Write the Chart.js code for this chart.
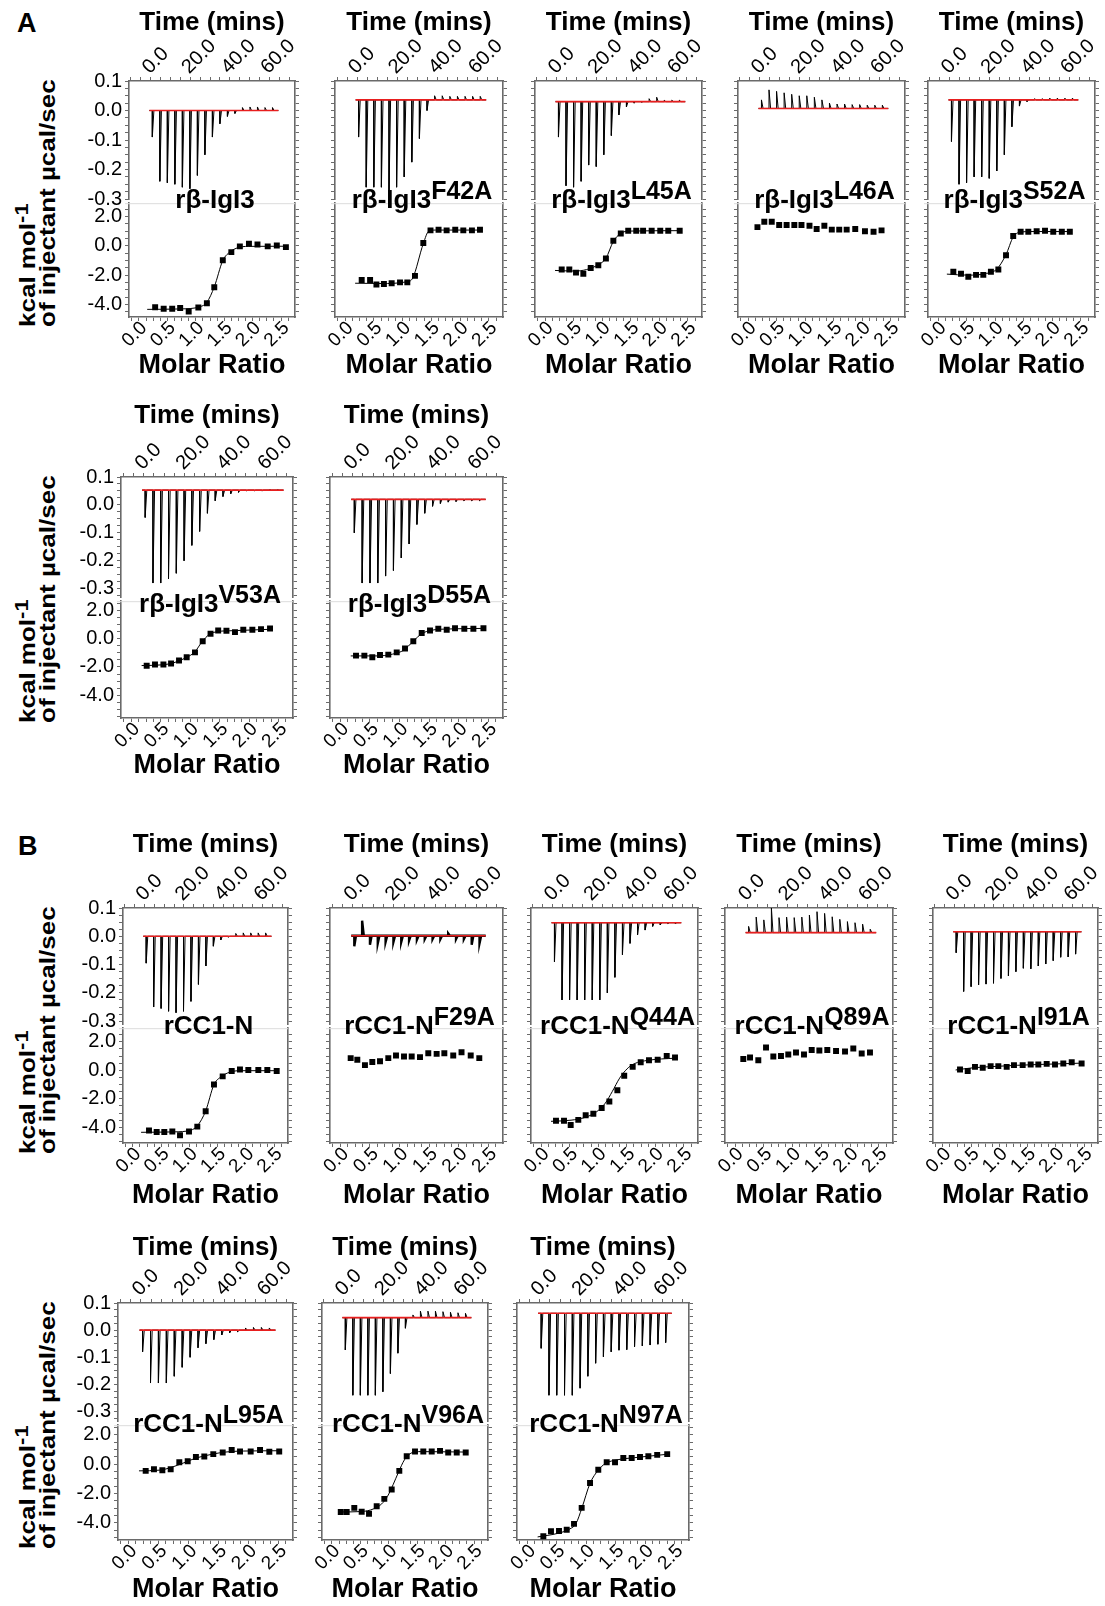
<!DOCTYPE html>
<html>
<head>
<meta charset="utf-8">
<script src="https://cdn.jsdelivr.net/npm/chart.js@4.4.1/dist/chart.umd.min.js"></script>
<style>
  body { margin: 0; background: #fff; }
  #fig { position: relative; width: 1105px; height: 1606px; overflow: hidden; background: #fff;
         font-family: 'Liberation Sans', Arial, Helvetica, sans-serif; }
  #fig canvas { position: absolute; }
  .lbl { position: absolute; font-weight: bold; color: #000; white-space: nowrap; z-index: 5; }
  .name { font-size: 26px; line-height: 26px; }
  .name .sup { font-size: 25px; position: relative; top: -9px; }
  .ytitle { font-size: 26px; line-height: 22px; transform-origin: 0 0; transform: rotate(-90deg) scale(1, 0.85); }
  .ytitle .sup { font-size: 22px; position: relative; top: -8px; }
  .tag { font-size: 27px; line-height: 27px; }
</style>
</head>
<body>
<div id="fig"></div>
<script>
// ---- data ----
const panelNames = ['rβ-IgI3', 'rβ-IgI3', 'rβ-IgI3', 'rβ-IgI3', 'rβ-IgI3', 'rβ-IgI3', 'rβ-IgI3',
  'rCC1-N', 'rCC1-N', 'rCC1-N', 'rCC1-N', 'rCC1-N', 'rCC1-N', 'rCC1-N', 'rCC1-N'];
const mutations = ['', 'F42A', 'L45A', 'L46A', 'S52A', 'V53A', 'D55A',
  '', 'F29A', 'Q44A', 'Q89A', 'I91A', 'L95A', 'V96A', 'N97A'];

// tick labels
const timeTicks = [0, 20, 40, 60];
const ratioTicks = [0, 0.5, 1, 1.5, 2, 2.5];
const powerTicks = [0.1, 0, -0.1, -0.2, -0.3];
const heatTicks = [2, 0, -2, -4];

// injection times (min), same protocol for every titration
const injectionTimes = [0.8, 4.6, 8.4, 12.2, 16.0, 19.8, 23.6, 27.4, 31.2, 35.0, 38.8, 42.6, 46.4, 50.2, 54.0, 57.8, 61.6, 65.4];

// thermogram baseline (µcal/sec) and peak value of each injection
const baselines = [0.0, 0.036, 0.03, 0.007, 0.036, 0.053, 0.02, 0.0, 0.002, 0.048, 0.013, 0.016, 0.0, 0.046, 0.062];
const peakHeights = [
  [-0.09, -0.24, -0.245, -0.25, -0.26, -0.265, -0.22, -0.15, -0.09, -0.045, -0.02, -0.01, 0.01, 0.012, 0.012, 0.01, 0.01],
  [-0.09, -0.26, -0.26, -0.26, -0.275, -0.26, -0.225, -0.175, -0.095, 0.0, 0.05, 0.05, 0.048, 0.048, 0.048, 0.048, 0.048],
  [-0.09, -0.255, -0.26, -0.24, -0.185, -0.19, -0.15, -0.085, -0.015, 0.012, 0.025, 0.028, 0.04, 0.045, 0.035, 0.035, 0.035],
  [0.036, 0.07, 0.065, 0.06, 0.055, 0.05, 0.05, 0.045, 0.036, 0.025, 0.022, 0.022, 0.02, 0.02, 0.018, 0.018, 0.018],
  [-0.105, -0.25, -0.245, -0.225, -0.225, -0.23, -0.205, -0.15, -0.055, 0.015, 0.03, 0.04, 0.04, 0.042, 0.042, 0.042, 0.042],
  [-0.045, -0.28, -0.28, -0.265, -0.245, -0.2, -0.145, -0.095, -0.03, 0.015, 0.03, 0.04, 0.045, 0.05, 0.05, 0.05, 0.055, 0.055],
  [-0.1, -0.28, -0.28, -0.28, -0.255, -0.235, -0.19, -0.14, -0.07, -0.03, -0.005, 0.005, 0.01, 0.012, 0.015, 0.015, 0.015],
  [-0.095, -0.25, -0.255, -0.265, -0.27, -0.265, -0.23, -0.17, -0.105, -0.035, -0.013, -0.003, 0.01, 0.012, 0.012, 0.012, 0.012],
  [-0.035, 0.055, -0.03, -0.025, -0.02, -0.02, -0.02, -0.015, -0.012, -0.01, -0.01, -0.01, 0.01, -0.01, -0.01, -0.03, -0.025],
  [-0.09, -0.225, -0.225, -0.225, -0.225, -0.225, -0.225, -0.2, -0.145, -0.065, -0.025, 0.005, 0.022, 0.035, 0.04, 0.045, 0.045],
  [0.035, 0.068, 0.058, 0.1, 0.066, 0.068, 0.066, 0.068, 0.075, 0.087, 0.081, 0.069, 0.06, 0.052, 0.048, 0.043, 0.025],
  [-0.058, -0.195, -0.178, -0.172, -0.169, -0.166, -0.149, -0.14, -0.125, -0.113, -0.115, -0.105, -0.098, -0.086, -0.074, -0.073, -0.063],
  [-0.08, -0.195, -0.195, -0.195, -0.17, -0.137, -0.1, -0.065, -0.05, -0.035, -0.018, -0.01, -0.006, 0.008, 0.01, 0.01, 0.008],
  [-0.073, -0.24, -0.24, -0.24, -0.24, -0.227, -0.16, -0.085, 0.007, 0.056, 0.07, 0.07, 0.07, 0.068, 0.066, 0.064, 0.062],
  [-0.067, -0.24, -0.24, -0.24, -0.24, -0.214, -0.17, -0.122, -0.098, -0.08, -0.074, -0.072, -0.061, -0.058, -0.055, -0.052, -0.046]
];

// integrated heats: molar ratio and kcal/mol of injectant
const molarRatios = [
  [0.16, 0.31, 0.46, 0.6, 0.75, 0.92, 1.07, 1.2, 1.35, 1.5, 1.65, 1.81, 1.96, 2.14, 2.3, 2.46],
  [0.164, 0.31, 0.42, 0.55, 0.685, 0.83, 0.957, 1.09, 1.235, 1.36, 1.5, 1.64, 1.79, 1.93, 2.08, 2.22],
  [0.167, 0.3, 0.417, 0.545, 0.674, 0.807, 0.94, 1.07, 1.2, 1.33, 1.47, 1.59, 1.74, 1.89, 2.03, 2.23],
  [0.04, 0.16, 0.29, 0.42, 0.55, 0.685, 0.81, 0.95, 1.075, 1.21, 1.34, 1.47, 1.6, 1.75, 1.92, 2.07, 2.21],
  [0.143, 0.277, 0.405, 0.54, 0.667, 0.8, 0.93, 1.064, 1.19, 1.32, 1.454, 1.6, 1.746, 1.89, 2.04, 2.18],
  [0.136, 0.277, 0.42, 0.55, 0.685, 0.815, 0.956, 1.087, 1.22, 1.35, 1.49, 1.635, 1.776, 1.93, 2.077, 2.23],
  [0.139, 0.28, 0.414, 0.544, 0.684, 0.826, 0.966, 1.106, 1.248, 1.388, 1.528, 1.67, 1.81, 1.967, 2.12, 2.29],
  [0.16, 0.296, 0.431, 0.573, 0.709, 0.868, 1.015, 1.163, 1.31, 1.464, 1.624, 1.77, 1.918, 2.095, 2.254, 2.42],
  [0.049, 0.161, 0.29, 0.414, 0.544, 0.684, 0.814, 0.949, 1.079, 1.219, 1.359, 1.5, 1.63, 1.78, 1.92, 2.075, 2.22],
  [0.137, 0.277, 0.394, 0.527, 0.656, 0.79, 0.936, 1.07, 1.21, 1.33, 1.478, 1.618, 1.763, 1.915, 2.073, 2.218],
  [0.018, 0.135, 0.279, 0.413, 0.54, 0.673, 0.8, 0.934, 1.073, 1.207, 1.34, 1.478, 1.63, 1.786, 1.93, 2.076, 2.22],
  [0.178, 0.314, 0.443, 0.58, 0.72, 0.856, 1.004, 1.133, 1.287, 1.429, 1.564, 1.712, 1.859, 2.006, 2.155, 2.33],
  [0.162, 0.3, 0.44, 0.579, 0.723, 0.863, 1.0, 1.14, 1.29, 1.447, 1.597, 1.736, 1.914, 2.07, 2.225, 2.39],
  [0.03, 0.134, 0.268, 0.398, 0.527, 0.662, 0.796, 0.926, 1.06, 1.19, 1.336, 1.482, 1.63, 1.776, 1.92, 2.07, 2.228],
  [0.147, 0.277, 0.413, 0.544, 0.668, 0.798, 0.94, 1.08, 1.223, 1.364, 1.505, 1.647, 1.788, 1.93, 2.08, 2.25]
];
const heats = [
  [-4.18, -4.29, -4.29, -4.24, -4.47, -4.2, -3.91, -2.83, -0.99, -0.43, -0.04, 0.14, 0.09, -0.04, 0.02, -0.09],
  [-2.33, -2.33, -2.64, -2.6, -2.55, -2.49, -2.49, -2.05, 0.19, 1.05, 1.09, 1.05, 1.09, 1.05, 1.05, 1.09],
  [-1.62, -1.62, -1.83, -1.9, -1.51, -1.33, -0.86, 0.34, 0.84, 1.03, 1.03, 1.03, 1.03, 1.03, 1.03, 1.03],
  [1.27, 1.64, 1.64, 1.42, 1.42, 1.42, 1.42, 1.36, 1.14, 1.36, 1.1, 1.1, 1.1, 1.14, 0.99, 0.95, 1.05],
  [-1.77, -1.9, -2.11, -1.98, -1.98, -1.77, -1.62, -0.64, 0.66, 0.95, 0.95, 0.99, 1.03, 0.95, 0.95, 0.95],
  [-1.92, -1.83, -1.83, -1.76, -1.54, -1.31, -0.97, -0.18, 0.35, 0.57, 0.55, 0.46, 0.62, 0.62, 0.67, 0.71],
  [-1.2, -1.2, -1.31, -1.15, -1.13, -0.97, -0.7, -0.18, 0.39, 0.57, 0.69, 0.62, 0.73, 0.69, 0.69, 0.73],
  [-4.22, -4.33, -4.33, -4.29, -4.56, -4.29, -3.95, -2.87, -1.0, -0.43, -0.05, 0.06, 0.02, 0.02, 0.02, -0.05],
  [0.85, 0.74, 0.36, 0.58, 0.63, 0.85, 1.03, 0.97, 0.97, 0.92, 1.19, 1.15, 1.19, 1.03, 1.26, 1.03, 0.85],
  [-3.54, -3.54, -3.84, -3.48, -3.16, -3.05, -2.64, -2.19, -1.4, -0.39, 0.24, 0.56, 0.7, 0.74, 1.01, 0.9],
  [0.79, 0.9, 0.7, 1.6, 0.97, 1.0, 1.1, 1.24, 1.1, 1.42, 1.38, 1.42, 1.35, 1.31, 1.53, 1.17, 1.24],
  [0.06, -0.05, 0.24, 0.18, 0.29, 0.29, 0.24, 0.36, 0.36, 0.4, 0.4, 0.45, 0.4, 0.47, 0.56, 0.47],
  [-0.45, -0.34, -0.41, -0.34, 0.14, 0.21, 0.49, 0.53, 0.69, 0.8, 0.97, 0.87, 0.87, 0.97, 0.85, 0.87],
  [-3.25, -3.25, -2.97, -3.23, -3.37, -2.86, -2.36, -1.72, -0.45, 0.54, 0.87, 0.87, 0.87, 0.91, 0.8, 0.8, 0.8],
  [-4.9, -4.57, -4.55, -4.46, -4.06, -2.97, -1.28, -0.38, 0.14, 0.14, 0.43, 0.43, 0.49, 0.54, 0.64, 0.69]
];

// fitted binding curves [molar ratio, kcal/mol], null where no fit was drawn
const fitCurves = [
  [[0.02, -4.33], [0.6, -4.3], [0.95, -4.15], [1.07, -3.85], [1.2, -2.8], [1.35, -1.0], [1.45, -0.5], [1.6, -0.15], [1.8, -0.04], [2.48, -0.03]],
  [[0.05, -2.55], [0.5, -2.57], [0.95, -2.45], [1.05, -2.2], [1.235, 0.15], [1.33, 1.0], [1.45, 1.07], [2.25, 1.07]],
  [[0.05, -1.68], [0.4, -1.72], [0.6, -1.62], [0.8, -1.3], [0.94, -0.85], [1.07, 0.3], [1.2, 0.85], [1.35, 1.0], [2.25, 1.03]],
  null,
  [[0.03, -1.93], [0.4, -2.0], [0.7, -1.9], [0.9, -1.6], [1.064, -0.6], [1.19, 0.6], [1.3, 0.92], [1.5, 0.97], [2.2, 0.97]],
  [[0.05, -1.9], [0.4, -1.85], [0.6, -1.7], [0.8, -1.35], [0.95, -0.95], [1.08, -0.2], [1.2, 0.3], [1.35, 0.5], [1.6, 0.56], [2.25, 0.66]],
  [[0.05, -1.22], [0.5, -1.22], [0.75, -1.1], [0.95, -0.8], [1.1, -0.2], [1.25, 0.35], [1.4, 0.58], [1.7, 0.68], [2.3, 0.72]],
  [[0.02, -4.35], [0.6, -4.32], [0.9, -4.2], [1.015, -3.9], [1.163, -2.85], [1.31, -1.0], [1.42, -0.5], [1.6, -0.12], [1.8, -0.03], [2.45, -0.03]],
  null,
  [[0.05, -3.58], [0.4, -3.5], [0.65, -3.3], [0.85, -2.9], [1.0, -2.3], [1.12, -1.5], [1.25, -0.55], [1.38, 0.1], [1.5, 0.45], [1.75, 0.7], [2.22, 0.85]],
  null,
  [[0.1, 0.02], [0.4, 0.17], [0.8, 0.27], [1.2, 0.35], [1.6, 0.41], [2.0, 0.46], [2.33, 0.5]],
  [[0.05, -0.45], [0.4, -0.4], [0.6, -0.2], [0.8, 0.1], [1.0, 0.42], [1.2, 0.62], [1.4, 0.78], [1.6, 0.87], [1.8, 0.9], [2.4, 0.92]],
  [[0.02, -3.25], [0.4, -3.22], [0.6, -3.05], [0.75, -2.7], [0.85, -2.2], [0.95, -1.4], [1.05, -0.5], [1.15, 0.3], [1.25, 0.72], [1.4, 0.86], [2.25, 0.83]],
  [[0.05, -4.95], [0.4, -4.7], [0.6, -4.4], [0.7, -4.05], [0.8, -3.0], [0.94, -1.3], [1.08, -0.4], [1.2, 0.05], [1.4, 0.3], [1.7, 0.45], [2.25, 0.68]]
];

// ---- layout ----
const rows = [
  { top: 81,   div: 199,  bottom: 317,  pMin: -0.30,  hMin: -4.85, hMax: 2.9,  timeGap: 58, ratioGap: 49, nameDrop: 9 },
  { top: 477,  div: 597,  bottom: 718,  pMin: -0.33,  hMin: -5.6,  hMax: 2.64, timeGap: 61, ratioGap: 48, nameDrop: 15 },
  { top: 908,  div: 1024, bottom: 1143, pMin: -0.31,  hMin: -5.1,  hMax: 2.95, timeGap: 63, ratioGap: 53, nameDrop: 10 },
  { top: 1303, div: 1421, bottom: 1540, pMin: -0.335, hMin: -5.16, hMax: 2.66, timeGap: 55, ratioGap: 50, nameDrop: 11 }
];
const panelRow = [0, 0, 0, 0, 0, 1, 1, 2, 2, 2, 2, 2, 3, 3, 3];
const boxLeft  = [129, 335, 535, 738, 928, 121, 330, 123, 330, 531, 725, 933, 118, 322, 517];
const boxRight = [295, 503, 702, 905, 1095, 293, 503, 288, 503, 698, 893, 1098, 293, 488, 689];
const traceWidth = [1, 1, 1, 1, 1, 1, 1, 1, 2.4, 1, 1, 1, 1, 1, 1];

const AXIS = '#6a6a6a';
const LEFT_W = 55, RIGHT_W = 25, TOP_H = 80, BOTTOM_H = 75, OVERHANG = 14;

Chart.defaults.font.family = "'Liberation Sans', Arial, Helvetica, sans-serif";
Chart.defaults.color = '#000';

const fig = document.getElementById('fig');

function stepTicks(min, max, step) {
  const out = [];
  for (let i = Math.ceil(min / step - 1e-9); i * step <= max + 1e-9; i++) {
    out.push({ value: Math.round(i * step * 1e6) / 1e6 });
  }
  return out;
}

function labelIf(list) {
  return v => list.some(m => Math.abs(m - v) < 1e-6) ? Number(v).toFixed(1) : '';
}

function axisLook() {
  return {
    grid: { drawOnChartArea: false, drawTicks: true, tickLength: 4, color: AXIS, lineWidth: 1 },
    border: { display: true, color: AXIS, width: 1.6 }
  };
}

function yAxis(pos, min, max, step, majors, showLabels) {
  return Object.assign({
    type: 'linear', position: pos, min: min, max: max,
    afterBuildTicks: s => { s.ticks = stepTicks(min, max, step); },
    afterFit: s => { s.width = pos === 'left' ? LEFT_W : RIGHT_W; s.paddingTop = 0; s.paddingBottom = 0; },
    ticks: { autoSkip: false, display: showLabels, padding: 3, font: { size: 20 }, callback: labelIf(majors) }
  }, axisLook());
}

function addCanvas(left, top, w, h) {
  const c = document.createElement('canvas');
  c.width = w; c.height = h;
  c.style.left = left + 'px'; c.style.top = top + 'px';
  c.style.width = w + 'px'; c.style.height = h + 'px';
  fig.appendChild(c);
  return c;
}

function addText(cls, html, css) {
  const d = document.createElement('div');
  d.className = 'lbl ' + cls;
  d.innerHTML = html;
  Object.assign(d.style, css);
  fig.appendChild(d);
  return d;
}

const dividerLine = {
  id: 'dividerLine',
  afterDraw(chart) {
    const { ctx, chartArea: a } = chart;
    ctx.save();
    ctx.strokeStyle = '#dcdcdc';
    ctx.lineWidth = 1;
    ctx.beginPath();
    ctx.moveTo(a.left - 4, a.top + 0.5);
    ctx.lineTo(a.right, a.top + 0.5);
    ctx.stroke();
    ctx.restore();
  }
};

const baseOptions = {
  responsive: false, animation: false, devicePixelRatio: 1, events: [],
  plugins: { legend: { display: false }, tooltip: { enabled: false } }
};

function thermogram(k) {
  const base = baselines[k];
  const peaks = peakHeights[k];
  const pts = [{ x: injectionTimes[0] - 1.5, y: base }];
  peaks.forEach((p, i) => {
    const t = injectionTimes[i];
    pts.push({ x: t, y: base }, { x: t, y: p }, { x: t + 0.8, y: base });
  });
  pts.push({ x: injectionTimes[peaks.length - 1] + 3, y: base });
  return pts;
}

function drawPanel(k) {
  const row = rows[panelRow[k]];
  const showY = k === 0 || panelRow[k] !== panelRow[k - 1];
  const L = boxLeft[k], R = boxRight[k];
  const w = R - L + LEFT_W + RIGHT_W;
  const base = baselines[k];
  const n = peakHeights[k].length;

  // upper panel: raw power vs time
  const cTop = addCanvas(L - LEFT_W, row.top - TOP_H, w, row.div - row.top + TOP_H + OVERHANG);
  new Chart(cTop, {
    type: 'line',
    data: {
      datasets: [
        { data: [{ x: injectionTimes[0] - 1.5, y: base }, { x: injectionTimes[n - 1] + 3, y: base }],
          xAxisID: 'xt', yAxisID: 'yl', borderColor: 'rgb(232,30,30)', borderWidth: 1.6, pointRadius: 0 },
        { data: thermogram(k), xAxisID: 'xt', yAxisID: 'yl', borderColor: '#000',
          borderWidth: traceWidth[k], pointRadius: 0, tension: 0 }
      ]
    },
    options: Object.assign({}, baseOptions, {
      layout: { padding: { bottom: OVERHANG } },
      scales: {
        xt: Object.assign({
          type: 'linear', position: 'top', min: -11, max: 73,
          afterBuildTicks: s => { s.ticks = stepTicks(-11, 73, 5); },
          afterFit: s => { s.height = TOP_H; s.paddingLeft = 0; s.paddingRight = 0; },
          ticks: { autoSkip: false, minRotation: 45, maxRotation: 45, labelOffset: 12, padding: -2,
                   font: { size: 20 }, callback: labelIf(timeTicks) },
          title: { display: true, text: 'Time (mins)', color: '#000', font: { size: 26, weight: 'bold' },
                   padding: { top: TOP_H - row.timeGap - 15.6, bottom: 0 } }
        }, axisLook()),
        yl: yAxis('left', row.pMin, 0.1, 0.025, powerTicks, showY),
        yr: yAxis('right', row.pMin, 0.1, 0.025, powerTicks, false)
      }
    })
  });

  // lower panel: integrated heats vs molar ratio
  const cBot = addCanvas(L - LEFT_W, row.div, w, row.bottom - row.div + BOTTOM_H);
  const datasets = [
    { data: molarRatios[k].map((x, i) => ({ x: x, y: heats[k][i] })), xAxisID: 'xb', yAxisID: 'ylb',
      showLine: false, pointStyle: 'rect', pointRadius: 4.2, backgroundColor: '#000', borderColor: '#000', borderWidth: 0 }
  ];
  if (fitCurves[k]) {
    datasets.push({ data: fitCurves[k].map(p => ({ x: p[0], y: p[1] })), xAxisID: 'xb', yAxisID: 'ylb',
      borderColor: '#000', borderWidth: 1, pointRadius: 0, cubicInterpolationMode: 'monotone' });
  }
  new Chart(cBot, {
    type: 'line',
    data: { datasets: datasets },
    options: Object.assign({}, baseOptions, {
      scales: {
        xb: Object.assign({
          type: 'linear', position: 'bottom', min: -0.3, max: 2.62,
          afterBuildTicks: s => { s.ticks = stepTicks(-0.3, 2.62, 0.125); },
          afterFit: s => { s.height = BOTTOM_H; s.paddingLeft = 0; s.paddingRight = 0; },
          ticks: { autoSkip: false, minRotation: 45, maxRotation: 45, labelOffset: -2, padding: -4,
                   font: { size: 19 }, callback: labelIf(ratioTicks) },
          title: { display: true, text: 'Molar Ratio', color: '#000', font: { size: 27, weight: 'bold' },
                   padding: { top: 0, bottom: BOTTOM_H - row.ratioGap - 16.2 } }
        }, axisLook()),
        ylb: yAxis('left', row.hMin, row.hMax, 0.5, heatTicks, showY),
        yrb: yAxis('right', row.hMin, row.hMax, 0.5, heatTicks, false)
      }
    }),
    plugins: [dividerLine]
  });

  // sample name
  const sup = mutations[k] ? '<span class="sup">' + mutations[k] + '</span>' : '';
  addText('name', panelNames[k] + sup, {
    left: ((L + R) / 2 + 3) + 'px', top: (row.div + row.nameDrop - 22) + 'px', transform: 'translateX(-50%)'
  });

  // y-axis title on the first panel of each row
  if (showY) {
    addText('ytitle', 'kcal mol<span class="sup">-1</span><br>of injectant µcal/sec', {
      left: '18px', top: (row.top + 246) + 'px'
    });
  }
}

for (let k = 0; k < panelNames.length; k++) drawPanel(k);

addText('tag', 'A', { left: '17px', top: '10px' });
addText('tag', 'B', { left: '18px', top: '833px' });
</script>
</body>
</html>
